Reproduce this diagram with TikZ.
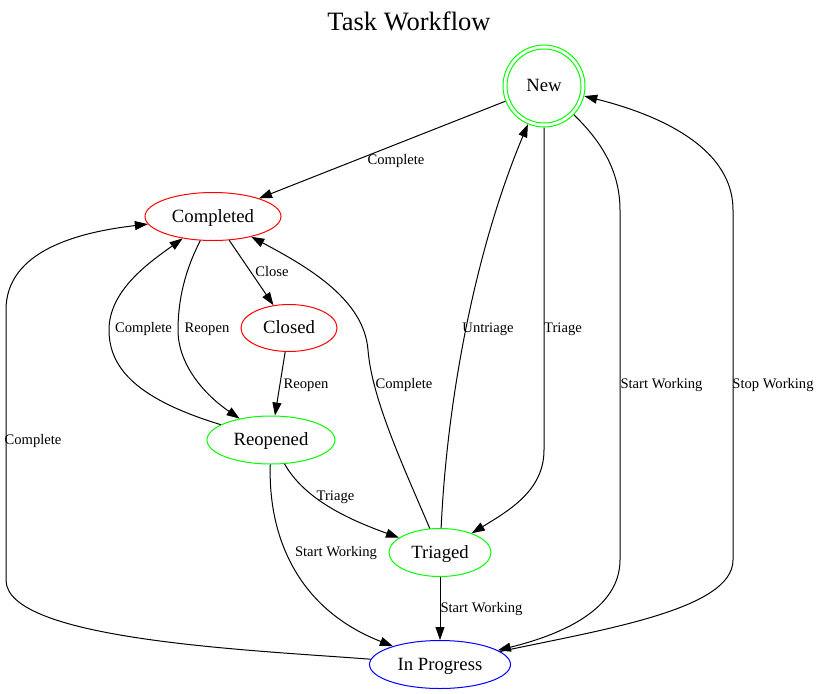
\documentclass[tikz,border=0pt]{standalone}
\usepackage{fontspec}
\setmainfont{Liberation Serif}
\newfontfamily\tms{Liberation Serif}
\usetikzlibrary{shapes.geometric,arrows.meta}
\begin{document}
\begin{tikzpicture}[x=1pt,y=-1pt,
  st/.style={ellipse,draw,inner sep=0pt,line width=1pt,text height=13pt,text depth=1.8pt,font=\tms\fontsize{18.7}{20}\selectfont},
  lbl/.style={inner sep=0pt,text height=10pt,text depth=1.2pt,font=\tms\fontsize{14.6}{16}\selectfont},
  edge/.style={line width=1pt,-{Triangle[length=13pt,width=9pt]}},
]
\useasboundingbox (0,0) rectangle (820,694);
\node[inner sep=0pt,text height=18pt,text depth=2pt,font=\tms\fontsize{26.5}{28}\selectfont] (title) at (409,22) {Task Workflow};

\node[circle,draw=green,line width=1pt,minimum size=82pt,inner sep=0pt,text height=13pt,text depth=1.8pt,font=\tms\fontsize{18.7}{20}\selectfont] (new) at (544,86) {New};
\draw[green,line width=1pt] (new.center) circle[radius=37pt];
\node[st,draw=red,minimum width=136pt,minimum height=48pt] (comp) at (213,216.5) {Completed};
\node[st,draw=red,minimum width=96pt,minimum height=47pt] (closed) at (289,328) {Closed};
\node[st,draw=green,minimum width=128pt,minimum height=48pt] (reop) at (271,440) {Reopened};
\node[st,draw=green,minimum width=102pt,minimum height=48pt] (tri) at (440,552.5) {Triaged};
\node[st,draw=blue,minimum width=141pt,minimum height=48pt] (inp) at (440,664.5) {In Progress};

% edges
\draw[edge] (new) -- (comp);
\draw[edge] (comp) -- (closed);
\draw[edge] (closed) -- (reop);
\draw[edge] (reop) .. controls (140,400) and (109,370) .. (109,330) .. controls (109,290) and (150,262) .. (comp);
\draw[edge] (comp) .. controls (185,270) and (178,300) .. (178,330) .. controls (178,365) and (205,395) .. (reop);
\draw[edge] (tri) .. controls (405,470) and (372,400) .. (368,350) .. controls (364,300) and (310,268) .. (comp);
\draw[edge] (tri) .. controls (447,400) and (475,250) .. (new);
\draw[edge] (new) -- (544,450) .. controls (544,490) and (510,510) .. (tri);
\draw[edge] (reop) .. controls (305,500) and (350,520) .. (tri);
\draw[edge] (reop) .. controls (268,540) and (300,610) .. (inp);
\draw[edge] (tri) -- (inp);
\draw[edge] (new) .. controls (600,140) and (620,170) .. (620,210) -- (620,560) .. controls (620,610) and (560,635) .. (inp);
\draw[edge] (inp) .. controls (600,630) and (733,610) .. (733,560) -- (733,210) .. controls (733,140) and (640,110) .. (new);
\draw[edge] (inp) .. controls (250,650) and (6,640) .. (6,580) -- (6,310) .. controls (6,250) and (80,232) .. (comp);

% labels
\node[lbl] (l1) at (396,160) {Complete};
\node[lbl] (l2) at (272,272) {Close};
\node[lbl] (l3) at (306,384) {Reopen};
\node[lbl] (l4) at (143.5,328) {Complete};
\node[lbl] (l5) at (207,328) {Reopen};
\node[lbl] (l6) at (404,384) {Complete};
\node[lbl] (l7) at (488,328) {Untriage};
\node[lbl] (l8) at (563,328) {Triage};
\node[lbl] (l9) at (335.5,496) {Triage};
\node[lbl] (l10) at (336,552) {Start Working};
\node[lbl] (l11) at (481.5,608) {Start Working};
\node[lbl] (l12) at (661.5,384) {Start Working};
\node[lbl] (l13) at (773,384) {Stop Working};
\node[lbl] (l14) at (33,440) {Complete};
\end{tikzpicture}
\end{document}
